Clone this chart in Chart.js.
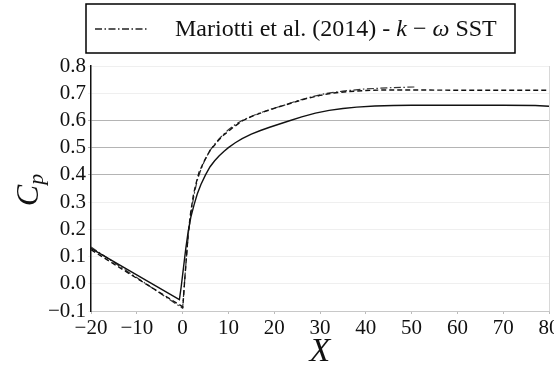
<!DOCTYPE html>
<html>
<head>
<meta charset="utf-8">
<script src="https://cdn.jsdelivr.net/npm/chart.js@4"></script>
<style>
  body { margin: 0; background: #fff; }
  #grafico { display: block; }
</style>
</head>
<body>
<canvas id="grafico" width="554" height="371"></canvas>
<script>
// Dados
const xSolido = [-20, -0.7, -0.3, 0.2, 0.7, 1.2, 1.8, 2.5, 3.2, 4, 5, 6, 7, 8, 9, 10, 11.5, 13, 15, 17, 19, 21, 23, 26, 29, 32, 35, 38, 42, 46, 50, 60, 70, 77, 80];
const ySolido = [0.13, -0.058, -0.01, 0.06, 0.13, 0.19, 0.245, 0.29, 0.33, 0.365, 0.40, 0.43, 0.452, 0.47, 0.486, 0.50, 0.518, 0.533, 0.55, 0.563, 0.575, 0.586, 0.597, 0.613, 0.627, 0.637, 0.644, 0.649, 0.653, 0.655, 0.656, 0.656, 0.656, 0.655, 0.652];

const xTracejado = [-20, 0.05, 0.4, 0.8, 1.2, 1.75, 2.3, 2.8, 3.6, 4.7, 6, 7, 8, 9, 10, 11, 13, 15.5, 18, 21, 24, 27, 30, 33, 36, 40, 44, 50, 60, 70, 80];
const yTracejado = [0.125, -0.085, 0.0, 0.09, 0.18, 0.26, 0.32, 0.36, 0.41, 0.45, 0.49, 0.51, 0.53, 0.547, 0.56, 0.574, 0.598, 0.618, 0.633, 0.65, 0.665, 0.68, 0.692, 0.701, 0.706, 0.71, 0.712, 0.712, 0.711, 0.711, 0.711];

const xTracoPonto = [-20, 0, 0.4, 0.8, 1.3, 2, 2.6, 3.2, 4, 5, 6, 7, 8, 9, 10, 11.5, 13, 16, 19, 22, 25, 28, 31, 35, 40, 45, 51];
const yTracoPonto = [0.135, -0.09, 0.0, 0.09, 0.19, 0.28, 0.335, 0.38, 0.42, 0.46, 0.49, 0.513, 0.533, 0.55, 0.566, 0.585, 0.60, 0.622, 0.64, 0.655, 0.672, 0.686, 0.698, 0.708, 0.716, 0.72, 0.723];

const xTicks = [-20, -10, 0, 10, 20, 30, 40, 50, 60, 70, 80];
const xTickLabels = ["\u221220", "\u221210", "0", "10", "20", "30", "40", "50", "60", "70", "80"];
const yTicks = [-0.1, 0, 0.1, 0.2, 0.3, 0.4, 0.5, 0.6, 0.7, 0.8];
const yTickLabels = ["\u22120.1", "0.0", "0.1", "0.2", "0.3", "0.4", "0.5", "0.6", "0.7", "0.8"];

// Legenda: partes do texto (normal / itálico)
const legendaPartes = [
  ["Mariotti et al. (2014) - ", false],
  ["k", true],
  [" \u2212 ", false],
  ["\u03c9", true],
  [" SST", false]
];

const fonte = "'Liberation Serif', 'DejaVu Serif', serif";
const tracoPonto = [7, 2.5, 1.5, 2.5];

function pontos(xs, ys) {
  return xs.map((x, i) => ({ x: x, y: ys[i] }));
}

// Legenda com borda e eixo y (C_p) desenhados à mão
const extras = {
  id: "extras",
  afterDraw(chart) {
    const ctx = chart.ctx;
    ctx.save();

    // caixa da legenda
    ctx.strokeStyle = "#000";
    ctx.lineWidth = 1.5;
    ctx.strokeRect(86, 4, 429, 49);

    ctx.setLineDash(tracoPonto);
    ctx.lineWidth = 1.3;
    ctx.strokeStyle = "#222";
    ctx.beginPath();
    ctx.moveTo(95, 29);
    ctx.lineTo(148, 29);
    ctx.stroke();
    ctx.setLineDash([]);

    // ajusta o tamanho para caber na largura
    let tam = 21;
    const medir = (t) => {
      let w = 0;
      legendaPartes.forEach(([txt, it]) => {
        ctx.font = (it ? "italic " : "") + t + "px " + fonte;
        w += ctx.measureText(txt).width;
      });
      return w;
    };
    tam = Math.min(24, tam * 335 / medir(tam));
    let x = 175;
    ctx.fillStyle = "#111";
    ctx.textBaseline = "alphabetic";
    legendaPartes.forEach(([txt, it]) => {
      ctx.font = (it ? "italic " : "") + tam + "px " + fonte;
      ctx.fillText(txt, x, 36);
      x += ctx.measureText(txt).width;
    });

    // rótulo do eixo y: C_p
    ctx.translate(30, 190);
    ctx.rotate(-Math.PI / 2);
    ctx.font = "italic 32px " + fonte;
    ctx.textBaseline = "middle";
    const wc = ctx.measureText("C").width;
    ctx.font = "italic 22px " + fonte;
    const wp = ctx.measureText("p").width;
    const x0 = -(wc + wp) / 2;
    ctx.font = "italic 32px " + fonte;
    ctx.fillText("C", x0, 0);
    ctx.font = "italic 22px " + fonte;
    ctx.fillText("p", x0 + wc, 7);

    ctx.restore();
  }
};

const ctx = document.getElementById("grafico").getContext("2d");

new Chart(ctx, {
  type: "line",
  data: {
    datasets: [
      {
        label: "Solido",
        data: pontos(xSolido, ySolido),
        borderColor: "#111",
        borderWidth: 1.4,
        pointRadius: 0,
        tension: 0
      },
      {
        label: "Tracejado",
        data: pontos(xTracejado, yTracejado),
        borderColor: "#111",
        borderWidth: 1.4,
        borderDash: [5, 3],
        pointRadius: 0,
        tension: 0
      },
      {
        label: "Mariotti",
        data: pontos(xTracoPonto, yTracoPonto),
        borderColor: "#333",
        borderWidth: 1.2,
        borderDash: tracoPonto,
        pointRadius: 0,
        tension: 0
      }
    ]
  },
  options: {
    responsive: false,
    animation: false,
    devicePixelRatio: 1,
    layout: { padding: { top: 66, right: 5, left: 0, bottom: 0 } },
    plugins: {
      legend: { display: false },
      tooltip: { enabled: false }
    },
    scales: {
      x: {
        type: "linear",
        min: -20,
        max: 80,
        afterBuildTicks: (s) => { s.ticks = xTicks.map(v => ({ value: v })); },
        afterFit: (s) => { s.height = 60; s.paddingLeft = 0; s.paddingRight = 0; },
        ticks: {
          callback: (v) => xTickLabels[xTicks.indexOf(v)],
          font: { family: fonte, size: 21 },
          color: "#111",
          padding: 2,
          maxRotation: 0,
          autoSkip: false
        },
        grid: {
          color: (c) => c.tick && c.tick.value === 80 ? "#d8d8d8" : "rgba(0,0,0,0)",
          tickColor: "#bbb",
          tickLength: 3
        },
        border: { color: "#c8c8c8", width: 1 },
        title: {
          display: true,
          text: "X",
          font: { family: fonte, size: 34, style: "italic", lineHeight: 1 },
          color: "#111",
          padding: { top: 0, bottom: 2 }
        }
      },
      y: {
        min: -0.1,
        max: 0.8,
        afterBuildTicks: (s) => { s.ticks = yTicks.map(v => ({ value: v })); },
        afterFit: (s) => { s.width = 91; s.paddingTop = 0; s.paddingBottom = 0; },
        ticks: {
          callback: (v) => yTickLabels[yTicks.findIndex(t => Math.abs(t - v) < 1e-9)],
          font: { family: fonte, size: 21 },
          color: "#111",
          padding: 2,
          autoSkip: false
        },
        grid: {
          color: (c) => {
            const v = c.tick ? Math.round(c.tick.value * 10) : 0;
            return (v >= 4 && v <= 6) ? "#b4b4b4" : "#efefef";
          },
          tickLength: 3
        },
        border: { color: "#111", width: 1.5 }
      }
    }
  },
  plugins: [extras]
});
</script>
</body>
</html>
